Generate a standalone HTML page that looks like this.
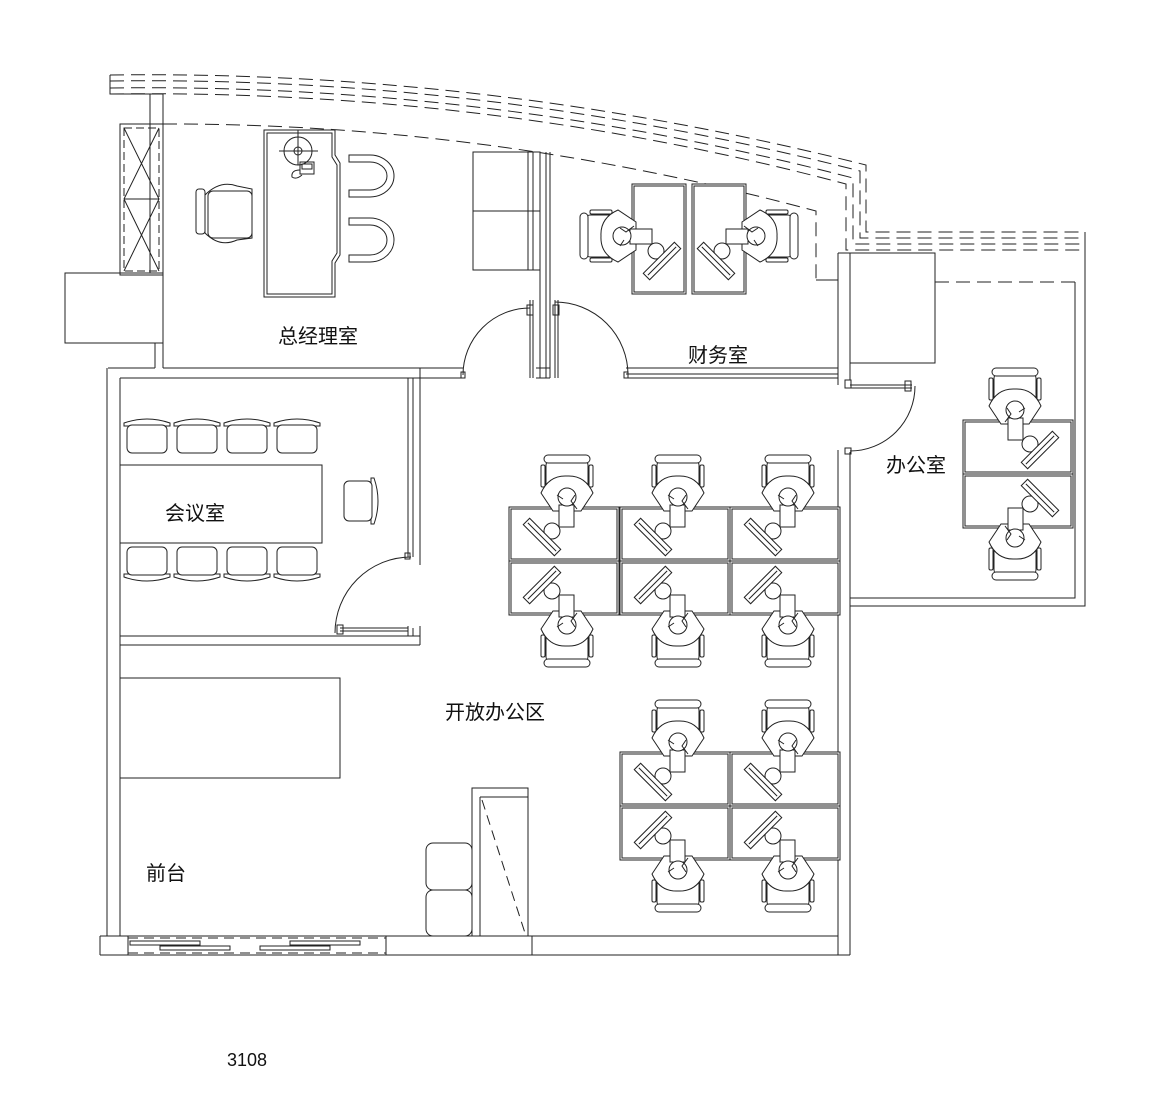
<!DOCTYPE html>
<html><head><meta charset="utf-8">
<style>
html,body{margin:0;padding:0;background:#fff;}
svg{display:block;}
text{font-family:"Liberation Sans","Noto Sans CJK SC",sans-serif;fill:#111;}
</style></head>
<body>
<svg width="1170" height="1104" viewBox="0 0 1170 1104" xmlns="http://www.w3.org/2000/svg">
<defs>
<g id="unit" fill="none" stroke="#222" stroke-width="1">
  <rect x="-58" y="52" width="110" height="54" fill="#fff"/>
  <rect x="-56" y="54" width="106" height="50"/>
  <circle cx="-15" cy="76" r="8" fill="#fff"/>
  <g transform="translate(-25,82) rotate(45)">
    <rect x="-22" y="-4.5" width="44" height="9" fill="#fff"/>
    <line x1="-20" y1="0" x2="20" y2="0"/>
  </g>
  <rect x="-26" y="10" width="4" height="22" rx="1.5" fill="#fff"/>
  <rect x="22" y="10" width="4" height="22" rx="1.5" fill="#fff"/>
  <rect x="-21" y="6" width="42" height="30" rx="4" fill="#fff"/>
  <rect x="-23" y="0" width="46" height="8" rx="4" fill="#fff"/>
  <path d="M-26,38 Q-18,20 0,21 Q18,20 26,38 L14,56 L-14,56 Z" fill="#fff"/>
  <rect x="-8" y="50" width="15" height="22" fill="#fff"/>
  <circle cx="0" cy="42" r="9" fill="#fff"/>
  <path d="M-10,40 L-4,44 M8,40 L4,46 L10,54"/>
</g>
<g id="mchair" fill="#fff" stroke="#222" stroke-width="1">
  <path d="M-23,6 Q0,-2 23,6 L23,9 L-23,9 Z"/>
  <rect x="-20" y="8" width="40" height="28" rx="5"/>
</g>
</defs>

<g fill="none" stroke="#222" stroke-width="1">
<g stroke-dasharray="14,7">
  <path d="M110,75 Q488,70 866,165 L866,232 L1085,232"/>
  <path d="M110,81 Q488,76 860,171 L860,238 L1085,238"/>
  <path d="M110,88 Q488,83 853,178 L853,244 L1085,244"/>
  <path d="M110,94 Q488,89 846,184 L846,250 L1085,250"/>
  <path d="M163,124 Q488,123 816,211 L816,280"/>
  <path d="M935,282 L1075,282"/>
</g>
<path d="M110,75 V94 H163"/>
<path d="M1085,232 V280"/>
<path d="M816,280 H838"/>
<path d="M150,94 V273 M163,94 V124"/>
<rect x="120" y="124" width="43" height="151"/>
<rect x="124" y="128" width="35" height="143" stroke-dasharray="8,4"/>
<path d="M124,128 L159,199 L124,271 M159,128 L124,199 L159,271 M124,199 H159"/>
<rect x="65" y="273" width="98" height="70"/>
<path d="M155,343 V368 M163,343 V368"/>
<path d="M108,368 H155 M120,378 H420 M163,368 H463 M420,368 V378 M420,378 H463"/>
<rect x="461" y="372" width="4" height="6"/>
<path d="M264,130 H335 V155 L340,163 V255 L335,263 V297 H264 Z"/>
<path d="M267,133 H332 V157 L337,165 V253 L332,261 V294 H267 Z"/>
<circle cx="298" cy="151" r="14"/><circle cx="298" cy="151" r="4"/>
<path d="M298,130 V165 M279,151 H318"/>
<rect x="300" y="162" width="14" height="12"/><rect x="302" y="164" width="10" height="5"/>
<path d="M300,170 Q291,170 292,177 Q296,180 302,175"/>
<path d="M205,195 Q220,180 237,186 L252,189 V238 L237,240 Q220,248 205,233 Z" fill="#fff"/>
<rect x="196" y="189" width="9" height="45" rx="3"/>
<rect x="208" y="191" width="44" height="47" rx="5"/>
<path d="M349,155 H370 A24,21 0 0 1 370,197 H349 V190 H370 A17,14 0 0 0 370,162 H349 Z"/>
<path d="M349,218 H370 A24,22 0 0 1 370,262 H349 V255 H370 A17,15 0 0 0 370,225 H349 Z"/>
<rect x="473" y="152" width="67" height="118"/>
<path d="M473,211 H540"/>
<path d="M528,152 V270 M533,152 V270"/>
<path d="M540,152 V378 M546,152 V378 M550,152 V378"/>
<path d="M530,300 V378 M533,300 V378 M555,300 V378 M558,300 V378"/>
<rect x="527" y="305" width="6" height="10"/><rect x="553" y="305" width="6" height="10"/>
<path d="M536,368 H550 M536,378 H550"/>
<path d="M463,375 A67,67 0 0 1 530,308"/>
<path d="M555,302 A73,73 0 0 1 628,375"/>
<path d="M626,368 H838 M626,374 H838 M626,378 H838"/>
<rect x="624" y="372" width="4" height="6"/>
<path d="M838,253 V385 M850,253 V380"/>
<path d="M838,253 H935 V363 H850"/>
<path d="M838,450 V605 M850,452 V598"/>
<path d="M1075,282 V598 H850 M1085,280 V606 H850"/>
<path d="M850,385 H912 M850,388 H912"/>
<rect x="845" y="380" width="6" height="8"/><rect x="905" y="381" width="6" height="10"/>
<path d="M915,386 A65,65 0 0 1 850,451"/>
<rect x="845" y="448" width="6" height="6"/>
<path d="M838,605 V955 M850,598 V955"/>
<path d="M107,368 V936 M120,378 V936"/>
<path d="M408,378 V557 M413,378 V557 M420,378 V565"/>
<rect x="405" y="553" width="5" height="6"/>
<path d="M411,557 A76,76 0 0 0 335,633"/>
<path d="M340,628 H408 M340,631 H408"/>
<rect x="337" y="625" width="6" height="9"/>
<path d="M408,626 V636 M413,628 V636 M420,626 V645"/>
<path d="M120,636 H420 M120,645 H420"/>
<rect x="120" y="465" width="202" height="78"/>
<use href="#mchair" transform="translate(147,417)"/>
<use href="#mchair" transform="translate(197,417)"/>
<use href="#mchair" transform="translate(247,417)"/>
<use href="#mchair" transform="translate(297,417)"/>
<use href="#mchair" transform="translate(147,583) scale(1,-1)"/>
<use href="#mchair" transform="translate(197,583) scale(1,-1)"/>
<use href="#mchair" transform="translate(247,583) scale(1,-1)"/>
<use href="#mchair" transform="translate(297,583) scale(1,-1)"/>
<use href="#mchair" transform="translate(380,501) rotate(90)"/>
<rect x="120" y="678" width="220" height="100"/>
<rect x="472" y="788" width="56" height="148"/>
<path d="M480,797 H528 M480,797 V936" />
<path d="M482,800 L525,933" stroke-dasharray="10,6"/>
<rect x="426" y="843" width="46" height="47" rx="7"/>
<rect x="426" y="890" width="46" height="46" rx="7"/>
<path d="M100,936 H838 M100,955 H850 M100,936 V955 M128,936 V955 M386,936 V955 M532,936 V955"/>
<path d="M128,938 H386 M128,953 H386" stroke-dasharray="10,6"/>
<rect x="130" y="941" width="70" height="4"/><rect x="160" y="946" width="70" height="4"/>
<rect x="290" y="941" width="70" height="4"/><rect x="260" y="946" width="70" height="4"/>
</g>

<use href="#unit" transform="translate(567,455)"/>
<use href="#unit" transform="translate(678,455)"/>
<use href="#unit" transform="translate(788,455)"/>
<use href="#unit" transform="translate(567,667) scale(1,-1)"/>
<use href="#unit" transform="translate(678,667) scale(1,-1)"/>
<use href="#unit" transform="translate(788,667) scale(1,-1)"/>
<use href="#unit" transform="translate(678,700)"/>
<use href="#unit" transform="translate(788,700)"/>
<use href="#unit" transform="translate(678,912) scale(1,-1)"/>
<use href="#unit" transform="translate(788,912) scale(1,-1)"/>
<use href="#unit" transform="translate(1015,368) scale(-1,1)"/>
<use href="#unit" transform="translate(1015,580) scale(-1,-1)"/>
<use href="#unit" transform="translate(580,236) rotate(-90)"/>
<use href="#unit" transform="translate(798,236) scale(-1,1) rotate(-90)"/>

<g font-size="20">
<text x="278" y="343">总经理室</text>
<text x="688" y="362">财务室</text>
<text x="886" y="472">办公室</text>
<text x="165" y="520">会议室</text>
<text x="445" y="719">开放办公区</text>
<text x="146" y="880">前台</text>
</g>
<text x="227" y="1066" font-size="18">3108</text>
</svg>
</body></html>
